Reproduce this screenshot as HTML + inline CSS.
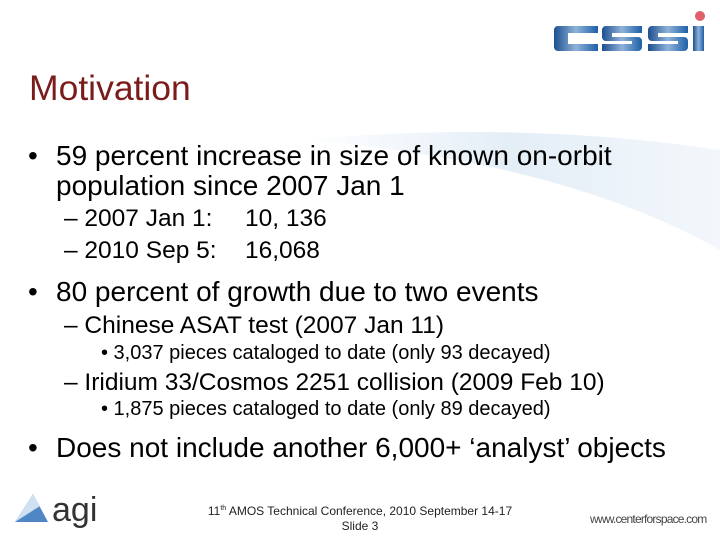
<!DOCTYPE html>
<html><head><meta charset="utf-8"><style>
body{margin:0}
#s{position:relative;width:720px;height:540px;background:#fff;overflow:hidden;font-family:"Liberation Sans",sans-serif;color:#000}
.t{position:absolute;white-space:nowrap;line-height:32px}
.l1{font-size:28px}.l2{font-size:24.5px}.l3{font-size:20px}
</style></head><body>
<div id="s">
<svg style="position:absolute;left:0;top:0" width="720" height="540">
<defs><linearGradient id="g" x1="0" y1="0" x2="1" y2="0"><stop offset="0" stop-color="#fff"/><stop offset="0.5" stop-color="#e4eef7"/><stop offset="1" stop-color="#f3f7fb"/></linearGradient>
<linearGradient id="lg" x1="0" y1="0" x2="1" y2="0"><stop offset="0" stop-color="#1d4f8f"/><stop offset="0.5" stop-color="#8fb3d9"/><stop offset="1" stop-color="#1d5fa8"/></linearGradient></defs>
<path d="M300 140 Q520 120 720 150 L720 250 Q560 160 300 140Z" fill="url(#g)"/>
<g fill="url(#lg)">
<path d="M558 26 h40 v7 h-30 v11 h30 v7 h-40 a4 4 0 0 1-4-4 v-17 a4 4 0 0 1 4-4z"/>
<path d="M602 26 h40 v7 h-30 v4 h26 a4 4 0 0 1 4 4 v6 a4 4 0 0 1-4 4 h-36 v-7 h30 v-3 h-26 a4 4 0 0 1-4-4 v-7 a4 4 0 0 1 4-4z"/>
<path d="M648 26 h40 v7 h-30 v4 h26 a4 4 0 0 1 4 4 v6 a4 4 0 0 1-4 4 h-36 v-7 h30 v-3 h-26 a4 4 0 0 1-4-4 v-7 a4 4 0 0 1 4-4z"/>
<rect x="693" y="26" width="11" height="25"/>
</g>
<circle cx="700" cy="16" r="5" fill="#e0606a"/>
<g><path d="M15 522 L33 494 L48 522Z" fill="#4f86c6"/><path d="M15 522 L33 494 L40 506 Z" fill="#cfe0f0"/></g>
</svg>
<div class="t" style="left:29px;top:68px;font-size:35.5px;line-height:40px;color:#7b1c1c">Motivation</div>
<div class="t l1" style="left:28px;top:140px">•</div>
<div class="t l1" style="left:56px;top:140px">59 percent increase in size of known on-orbit</div>
<div class="t l1" style="left:56px;top:170px">population since 2007 Jan 1</div>
<div class="t l2" style="left:64px;top:203px">– 2007 Jan 1:</div>
<div class="t l2" style="left:245px;top:203px">10, 136</div>
<div class="t l2" style="left:64px;top:235px">– 2010 Sep 5:</div>
<div class="t l2" style="left:245px;top:235px">16,068</div>
<div class="t l1" style="left:28px;top:276px">•</div>
<div class="t l1" style="left:56px;top:276px">80 percent of growth due to two events</div>
<div class="t l2" style="left:64px;top:310px">– Chinese ASAT test (2007 Jan 11)</div>
<div class="t l3" style="left:101px;top:337px">• 3,037 pieces cataloged to date (only 93 decayed)</div>
<div class="t l2" style="left:64px;top:367px">– Iridium 33/Cosmos 2251 collision (2009 Feb 10)</div>
<div class="t l3" style="left:101px;top:393px">• 1,875 pieces cataloged to date (only 89 decayed)</div>
<div class="t l1" style="left:28px;top:432px">•</div>
<div class="t l1" style="left:56px;top:432px">Does not include another 6,000+ ‘analyst’ objects</div>
<div class="t" style="left:52px;top:490px;font-size:34px;line-height:40px;color:#333">agi</div>
<div class="t" style="left:200px;top:501px;width:320px;text-align:center;font-size:12px;line-height:15px;color:#222">11<sup style="font-size:7px">th</sup> AMOS Technical Conference, 2010 September 14-17<br>Slide 3</div>
<div class="t" style="left:590px;top:511px;font-size:12px;line-height:16px;color:#444;letter-spacing:-0.8px">www.centerforspace.com</div>
</div>
</body></html>
